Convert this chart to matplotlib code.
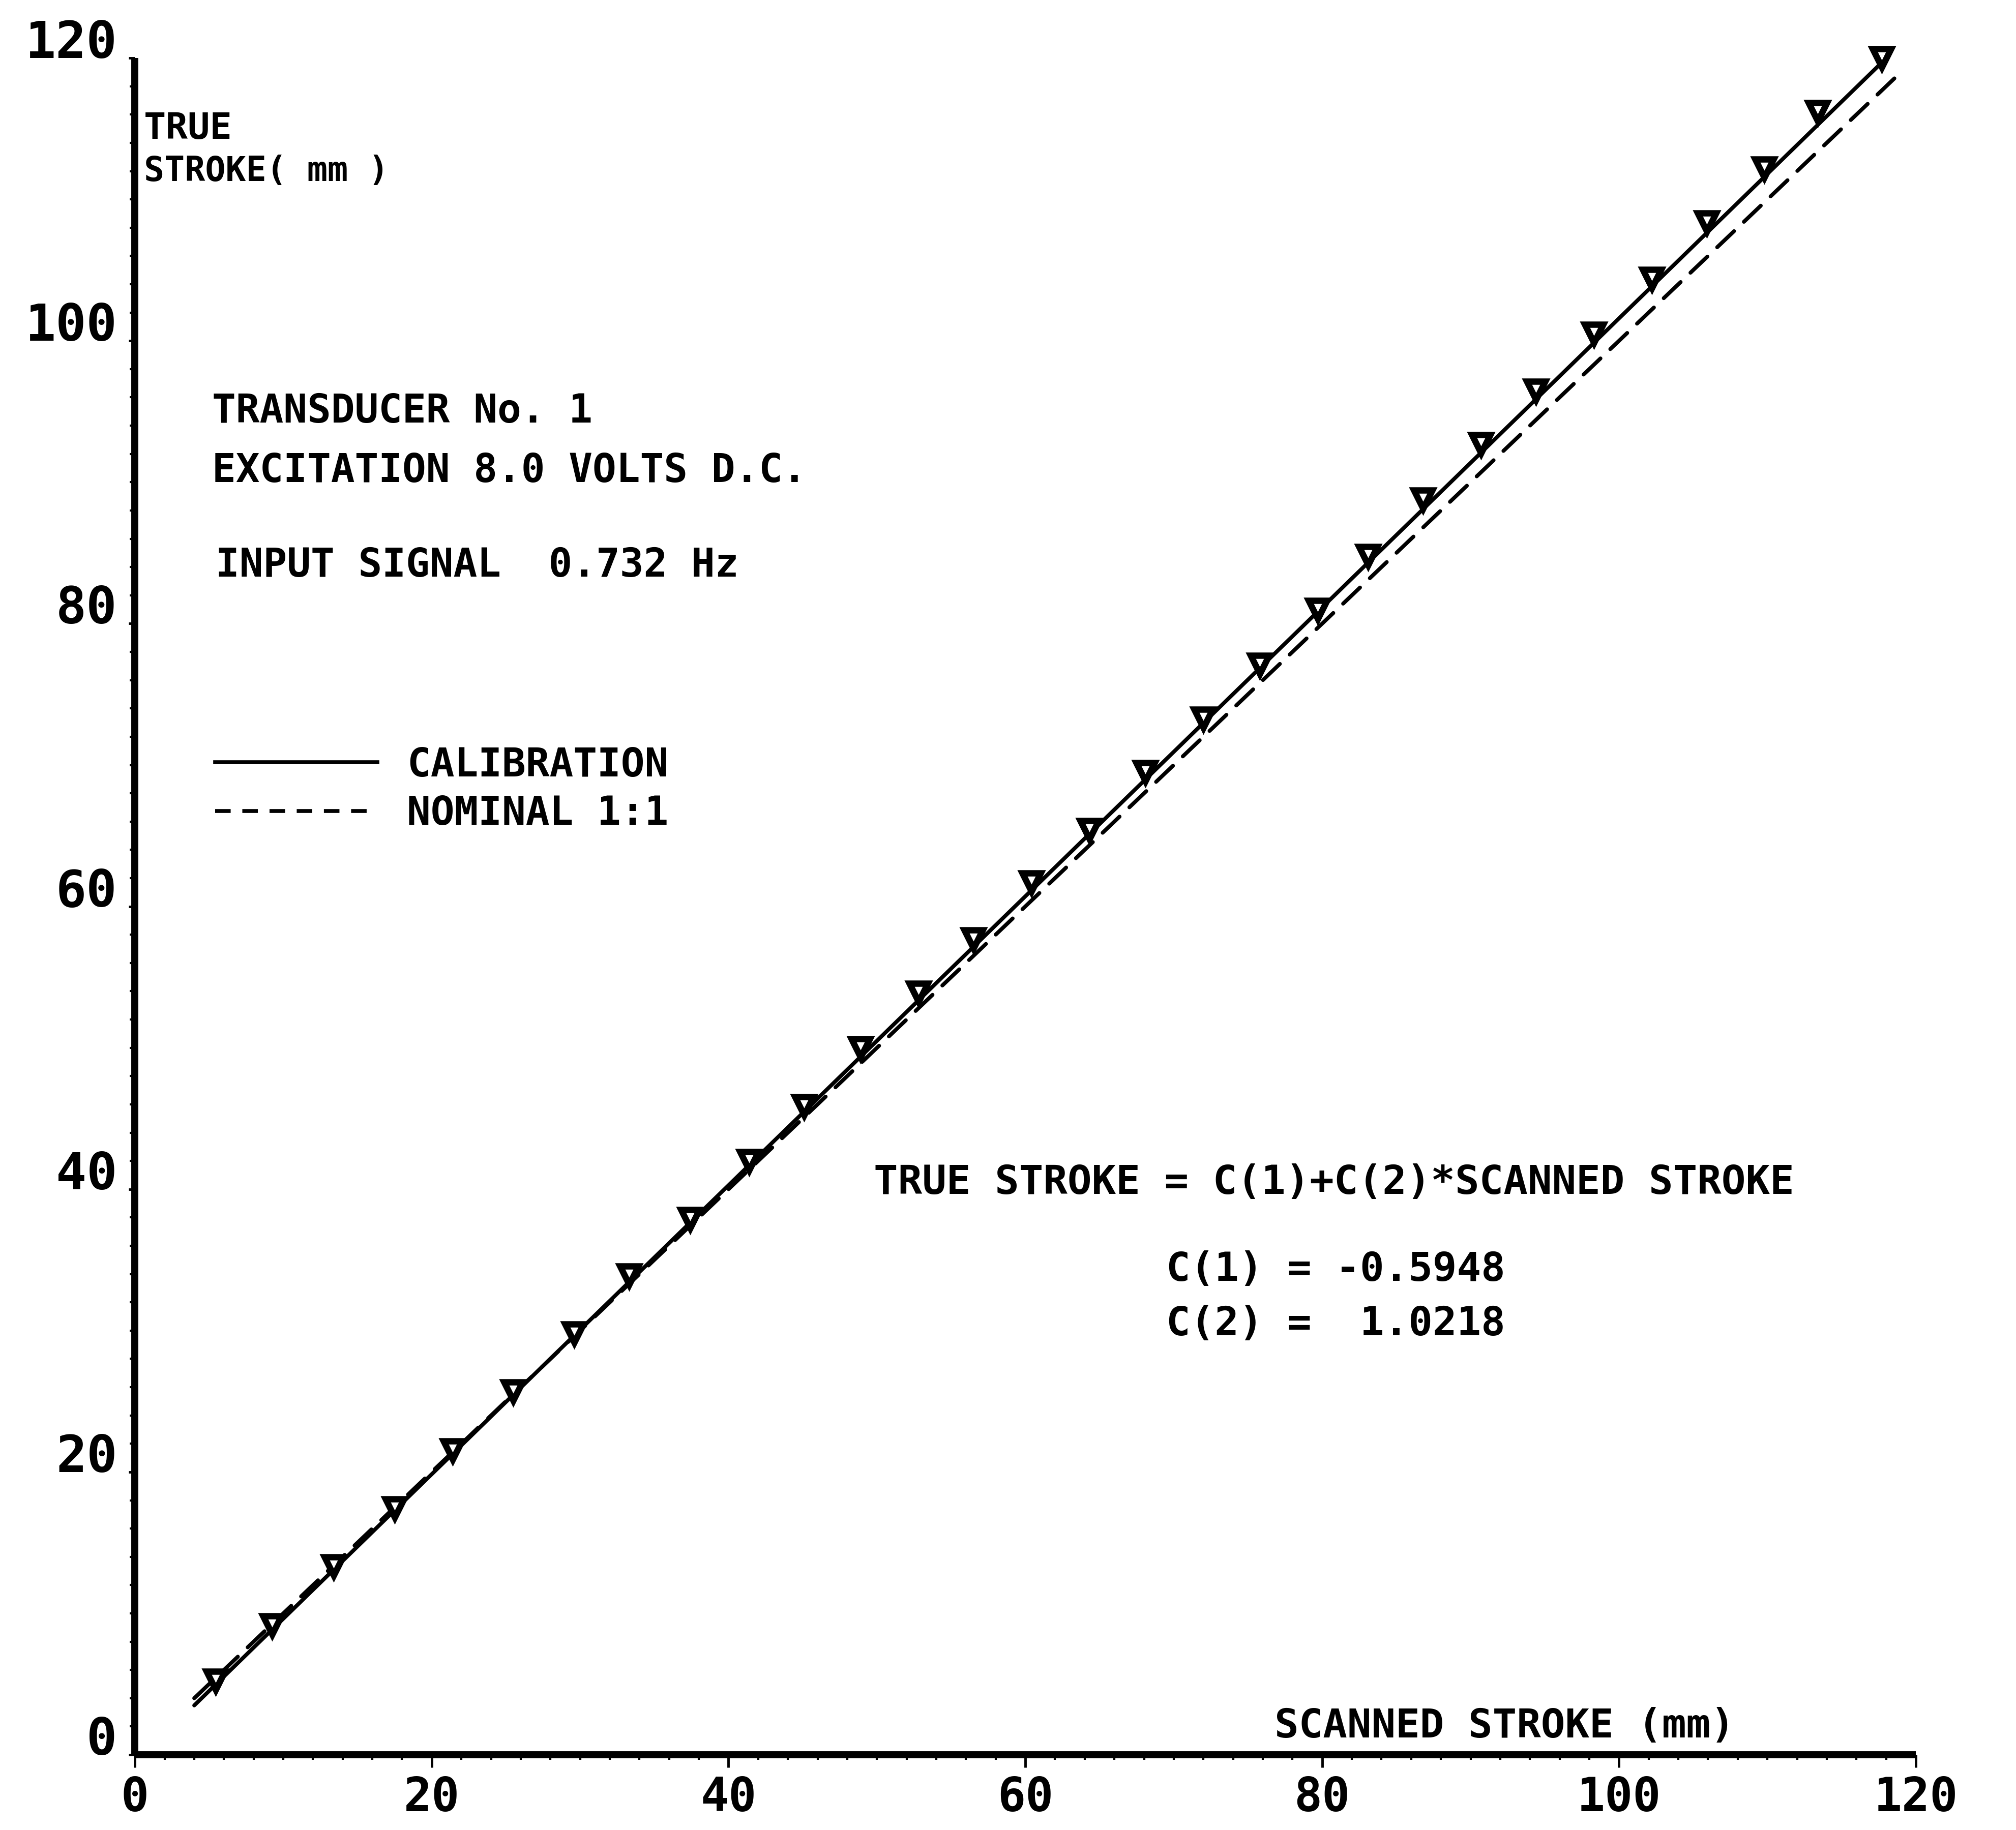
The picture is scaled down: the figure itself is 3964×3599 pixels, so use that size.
import matplotlib
matplotlib.use("Agg")
import matplotlib.pyplot as plt
from matplotlib.lines import Line2D
from matplotlib.ticker import MultipleLocator
import numpy as np

# fit coefficients printed on the plot
C1 = -0.5948
C2 = 1.0218

# measured calibration points (mm)
scanned = [5.45, 9.26, 13.4, 17.5, 21.4, 25.5, 29.6, 33.3, 37.4, 41.4,
           45.1, 48.9, 52.8, 56.5, 60.4, 64.3, 68.1, 72.0, 75.8, 79.7,
           83.1, 86.8, 90.7, 94.4, 98.3, 102.2, 105.9, 109.8, 113.4, 117.7]
true_stroke = [5.27, 9.18, 13.36, 17.45, 21.55, 25.73, 29.82, 33.9, 37.9, 42.0,
               45.9, 50.0, 53.9, 57.7, 61.7, 65.4, 69.5, 73.3, 77.1, 81.0,
               84.8, 88.8, 92.7, 96.5, 100.5, 104.4, 108.4, 112.2, 116.2, 120.0]

# extent of the fitted and nominal lines
fit_range = [4.0, 118.6]
nominal_range = [4.0, 118.8]

x_ticks = [0, 20, 40, 60, 80, 100, 120]
y_ticks = [0, 20, 40, 60, 80, 100, 120]

FONT = "DejaVu Sans Mono"
plt.rcParams["font.family"] = FONT
plt.rcParams["font.weight"] = "bold"

LW = 5.5

fig = plt.figure(figsize=(39.64, 35.99), dpi=100)
ax = fig.add_axes([0.0669, 0.0411, 0.8834, 0.9272])

fx = np.array(fit_range)
ax.plot(fx, C1 + C2 * fx, color="black", lw=LW, solid_capstyle="round")
nx_ = np.array(nominal_range)
ax.plot(nx_, nx_, color="black", lw=LW, dashes=(6, 3.5), dash_capstyle="round")
ax.plot(scanned, true_stroke, linestyle="none", marker="v", ms=26,
        mfc="white", mec="black", mew=9, clip_on=False, zorder=3)

ax.set_xlim(0, 120)
ax.set_ylim(0, 120)
for side in ("top", "right"):
    ax.spines[side].set_visible(False)
for side in ("left", "bottom"):
    ax.spines[side].set_linewidth(10)
    ax.spines[side].set_capstyle("butt")

ax.set_xticks(x_ticks)
ax.set_yticks(y_ticks)
ax.set_xticklabels([str(v) for v in x_ticks])
ax.set_yticklabels([str(v) for v in y_ticks])
ax.xaxis.set_minor_locator(MultipleLocator(2))
ax.yaxis.set_minor_locator(MultipleLocator(2))
ax.tick_params(axis="x", which="major", direction="out", length=18, width=3.5,
               pad=11, labelsize=66)
ax.tick_params(axis="y", which="major", direction="out", length=9, width=3.5,
               pad=16, labelsize=72)
ax.tick_params(which="minor", direction="out", length=7, width=3)
for lab in ax.get_yticklabels():
    lab.set_verticalalignment("baseline")

# axis titles placed inside the frame
ax.text(0.6, 115.0, "TRUE", fontsize=52, ha="left", va="center")
ax.text(0.6, 112.0, "STROKE( mm )", fontsize=48, ha="left", va="center")
ax.text(76.8, 2.0, "SCANNED STROKE (mm)", fontsize=57, ha="left", va="center")

# run description
ax.text(5.2, 95.0, "TRANSDUCER No. 1", fontsize=56, ha="left", va="center")
ax.text(5.2, 90.8, "EXCITATION 8.0 VOLTS D.C.", fontsize=56, ha="left", va="center")
ax.text(5.45, 84.1, "INPUT SIGNAL  0.732 Hz", fontsize=56, ha="left", va="center")

# fit equation and coefficients
ax.text(49.8, 40.45, "TRUE STROKE = C(1)+C(2)*SCANNED STROKE", fontsize=57,
        ha="left", va="center")
ax.text(69.5, 34.3, "C(1) = %.4f" % C1, fontsize=57, ha="left", va="center")
ax.text(69.5, 30.45, "C(2) =  %.4f" % C2, fontsize=57, ha="left", va="center")

handles = [
    Line2D([], [], color="black", lw=LW),
    Line2D([], [], color="black", lw=LW, dashes=(4, 3)),
]
ax.legend(handles, ["CALIBRATION", "NOMINAL 1:1"], loc="center left",
          bbox_to_anchor=(0.045, 0.569), frameon=False, fontsize=56,
          handlelength=4.1, handletextpad=0.75, labelspacing=0.25,
          borderpad=0, borderaxespad=0)

fig.savefig("out.png", dpi=100)
